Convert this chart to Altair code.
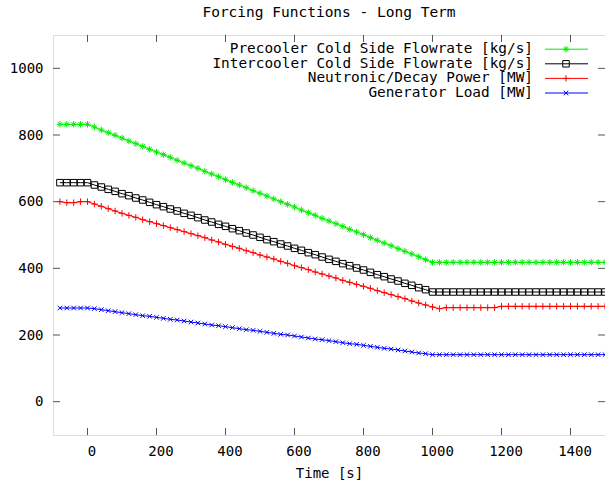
import altair as alt
import pandas as pd

FONT = "DejaVu Sans Mono"

names = [
    "Precooler Cold Side Flowrate [kg/s]",
    "Intercooler Cold Side Flowrate [kg/s]",
    "Neutronic/Decay Power [MW]",
    "Generator Load [MW]",
]
colors = ["#00ee00", "#000000", "#ff0000", "#0000ff"]
shapes = [
    "M-1,0L1,0M0,-1L0,1M-0.7,-0.7L0.7,0.7M-0.7,0.7L0.7,-0.7",
    "square",
    "M-1,0L1,0M0,-1L0,1",
    "M-0.7,-0.7L0.7,0.7M-0.7,0.7L0.7,-0.7",
]

times = [-80, -60, -40, -20, 0, 20, 40, 60, 80, 100, 120, 140, 160, 180, 200,
         220, 240, 260, 280, 300, 320, 340, 360, 380, 400, 420, 440, 460, 480, 500,
         520, 540, 560, 580, 600, 620, 640, 660, 680, 700, 720, 740, 760, 780, 800,
         820, 840, 860, 880, 900, 920, 940, 960, 980, 1000, 1020, 1040, 1060, 1080,
         1100, 1120, 1140, 1160, 1180, 1200, 1220, 1240, 1260, 1280, 1300, 1320,
         1340, 1360, 1380, 1400, 1420, 1440, 1460, 1480, 1500]

precooler = [832, 832, 832, 832, 832,
             824, 815, 807, 799, 791, 782, 774, 766, 757, 749,
             741, 733, 724, 716, 708, 700, 691, 683, 675, 666,
             658, 650, 642, 633, 625, 617, 608, 600, 592, 584,
             575, 567, 559, 550, 542, 534, 526, 517, 509, 501,
             492, 484, 476, 468, 459, 451, 443, 435, 426, 418,
             418, 418, 418, 418, 418, 418, 418, 418, 418, 418,
             418, 418, 418, 418, 418, 418, 418, 418, 418, 418,
             418, 418, 418, 418, 418]

intercooler = [657, 657, 657, 657, 657,
               650, 644, 637, 631, 624, 618, 611, 605, 598, 591,
               585, 578, 572, 565, 559, 552, 545, 539, 532, 526,
               519, 513, 506, 500, 493, 486, 480, 473, 467, 460,
               454, 447, 441, 434, 427, 421, 414, 408, 401, 395,
               388, 381, 375, 368, 362, 355, 349, 342, 336, 329,
               329, 329, 329, 329, 329, 329, 329, 329, 329, 329,
               329, 329, 329, 329, 329, 329, 329, 329, 329, 329,
               329, 329, 329, 329, 329]

power = [600, 597, 597, 600, 600,
         593, 586, 579, 572, 565, 559, 553, 546, 540, 534,
         528, 522, 516, 510, 504, 498, 492, 485, 479, 472,
         466, 460, 453, 447, 440, 434, 428, 421, 415, 408,
         402, 396, 389, 383, 377, 371, 364, 358, 352, 346,
         340, 333, 327, 321, 315, 309, 302, 296, 290, 284,
         279, 282, 282, 282, 282, 282, 282, 282, 282,
         286, 286, 286, 286, 286, 286, 286, 286, 286, 286,
         286, 286, 286, 286, 286, 286]

generator = [281, 281, 281, 281, 281,
             279, 276, 273, 270, 267, 264, 261, 258, 256, 253,
             250, 247, 245, 242, 239, 236, 233, 230, 228, 225,
             222, 219, 216, 214, 211, 208, 205, 202, 200, 197,
             194, 191, 188, 186, 183, 180, 177, 174, 172, 169,
             166, 163, 160, 158, 155, 152, 149, 146, 144, 141,
             141, 141, 141, 141, 141, 141, 141, 141, 141, 141,
             141, 141, 141, 141, 141, 141, 141, 141, 141, 141,
             141, 141, 141, 141, 141]

x_ticks = [0, 200, 400, 600, 800, 1000, 1200, 1400]
y_ticks = [0, 200, 400, 600, 800, 1000]

W, H = 552, 400
XD = [-100, 1500]
YD = [-100, 1100]

rows = []
for name, vals in zip(names, [precooler, intercooler, power, generator]):
    for t, v in zip(times, vals):
        rows.append({"t": t, "v": v, "series": name})
df = pd.DataFrame(rows)

leg = pd.DataFrame({"series": names, "ly": [14.2, 28.8, 43.4, 58.0]})

color = alt.Color("series:N", scale=alt.Scale(domain=names, range=colors), legend=None)
shape = alt.Shape("series:N", scale=alt.Scale(domain=names, range=shapes), legend=None)

xs = alt.Scale(domain=XD, nice=False, zero=False)
ys = alt.Scale(domain=YD, nice=False, zero=False)

x_axis = alt.Axis(values=x_ticks, format="d", ticks=False, domain=False, grid=False,
                  labelFont=FONT, labelFontSize=14, labelColor="#000",
                  labelPadding=9, labelOffset=4, titleFont=FONT, titleFontSize=14,
                  titleFontWeight="normal", titleColor="#000",
                  titleY=42, titleBaseline="alphabetic")
y_axis = alt.Axis(values=y_ticks, format="d", ticks=False, domain=False, grid=False,
                  labelFont=FONT, labelFontSize=14, labelColor="#000",
                  labelPadding=10)

X = alt.X("t:Q", scale=xs, title="Time [s]", axis=x_axis)
Y = alt.Y("v:Q", scale=ys, title=None, axis=y_axis)

base = alt.Chart(df)
lines = base.mark_line(strokeWidth=1, clip=True).encode(
    x=X, y=Y, color=color, detail="series:N")
points = base.mark_point(size=42, strokeWidth=1, filled=False, clip=True, opacity=1).encode(
    x=X, y=Y, color=color, shape=shape)

xt = pd.DataFrame({"t": x_ticks})
yt = pd.DataFrame({"v": y_ticks})
TC = "#555555"
tick_b = alt.Chart(xt).mark_rule(color=TC, strokeWidth=1).encode(
    x=X, y=alt.value(H), y2=alt.value(H - 7))
tick_t = alt.Chart(xt).mark_rule(color=TC, strokeWidth=1).encode(
    x=X, y=alt.value(0), y2=alt.value(7))
tick_l = alt.Chart(yt).mark_rule(color=TC, strokeWidth=1).encode(
    y=Y, x=alt.value(0), x2=alt.value(7))
tick_r = alt.Chart(yt).mark_rule(color=TC, strokeWidth=1).encode(
    y=Y, x=alt.value(W), x2=alt.value(W - 7))

lbase = alt.Chart(leg)
leg_text = lbase.mark_text(align="right", baseline="middle", font=FONT, fontSize=14.4,
                           color="#000").encode(
    x=alt.value(480), y=alt.Y("ly:Q", scale=None, axis=None), text="series:N")
leg_rule = lbase.mark_rule(strokeWidth=1).encode(
    x=alt.value(492), x2=alt.value(535), y=alt.Y("ly:Q", scale=None, axis=None), color=color)
leg_pt = lbase.mark_point(size=42, strokeWidth=1, filled=False, opacity=1).encode(
    x=alt.value(513), y=alt.Y("ly:Q", scale=None, axis=None), color=color, shape=shape)

chart = alt.layer(
    lines, points, tick_b, tick_t, tick_l, tick_r, leg_text, leg_rule, leg_pt
).properties(
    width=W, height=H,
    title=alt.TitleParams("Forcing Functions - Long Term", font=FONT, fontSize=14.5,
                          fontWeight="normal", color="#000", anchor="middle",
                          baseline="bottom", offset=14, dy=14),
    padding={"left": 53, "top": 35, "right": 0, "bottom": 50},
    autosize=alt.AutoSizeParams(type="none"),
).configure_view(stroke="#333333", strokeWidth=1).configure(background="white")

chart.save("out.html", embed_options={"renderer": "svg", "actions": False})
